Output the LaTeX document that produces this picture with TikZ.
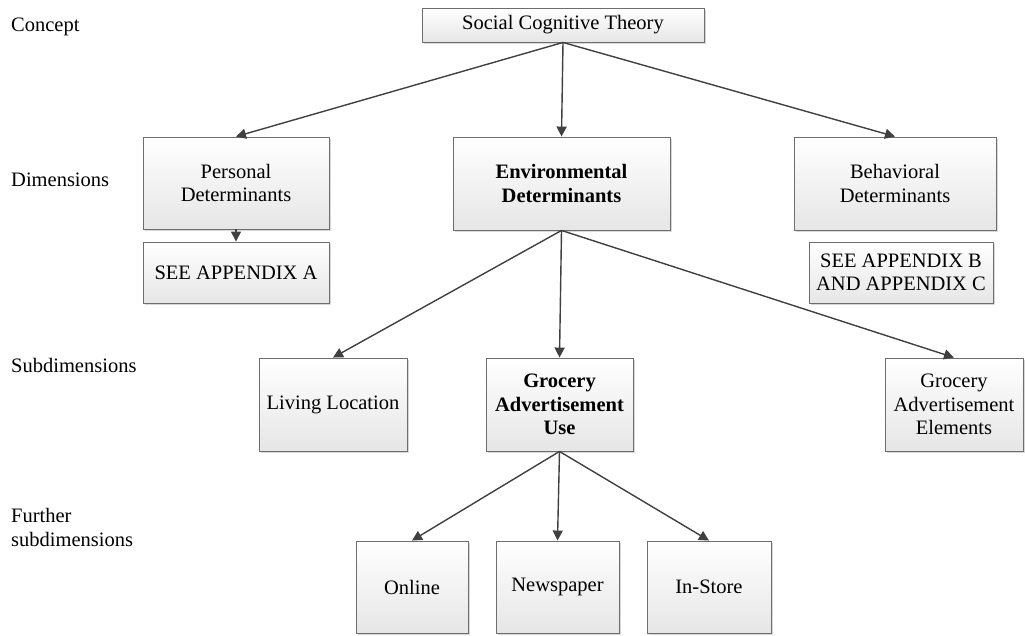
\documentclass[tikz,border=0pt]{standalone}
\usepackage{fontspec}
\setmainfont{Liberation Serif}
\usetikzlibrary{arrows.meta,shadows}
\definecolor{boxline}{HTML}{6E6E6E}
\definecolor{arrowc}{HTML}{404040}
\definecolor{boxbot}{HTML}{E6E6E6}
\tikzset{
  txt/.style={font=\fontsize{20.5}{23.5}\selectfont, inner sep=0pt},
  box/.style={draw=boxline, line width=0.9pt, top color=white, bottom color=boxbot,
    align=center, inner sep=2pt, font=\fontsize{20.5}{23.5}\selectfont,
    drop shadow={shadow xshift=2pt, shadow yshift=-2pt, fill=black!30, opacity=0.5}},
  arr/.style={draw=arrowc, line width=1.4pt, -{Triangle[length=10pt,width=10pt]}},
}
\begin{document}
\begin{tikzpicture}[x=1pt,y=-1pt]
\useasboundingbox (0,0) rectangle (1025,635);
% level labels
\node[txt, anchor=base west] (lc) at (11,31) {Concept};
\node[txt, anchor=base west] (ld) at (11,186.5) {Dimensions};
\node[txt, anchor=base west] (ls) at (11,372) {Subdimensions};
\node[txt, anchor=base west, align=left] (lf) at (11,546) {Further\\subdimensions};
% boxes
\node[box, minimum width=282pt, minimum height=34pt] (sct) at (563,25) {Social Cognitive Theory};
\node[box, minimum width=186pt, minimum height=92pt] (pd) at (236,183) {Personal\\Determinants};
\node[box, minimum width=217pt, minimum height=93pt] (ed) at (561.5,183.5) {\bfseries Environmental\\\bfseries Determinants};
\node[box, minimum width=202pt, minimum height=93pt] (bd) at (895,183.5) {Behavioral\\Determinants};
\node[box, minimum width=186pt, minimum height=61pt] (sa) at (236,272.5) {SEE APPENDIX A};
\node[box, minimum width=184pt, minimum height=61pt] (sb) at (901,272.5) {SEE APPENDIX B\\AND APPENDIX C};
\node[box, minimum width=148pt, minimum height=93pt] (ll) at (333,404.5) {Living Location};
\node[box, minimum width=147pt, minimum height=93pt] (gu) at (559.5,404.5) {\bfseries Grocery\\\bfseries Advertisement\\\bfseries Use};
\node[box, minimum width=138pt, minimum height=93pt] (ge) at (954,404.5) {Grocery\\Advertisement\\Elements};
\node[box, minimum width=112pt, minimum height=92pt] (on) at (412,587) {Online};
\node[box, minimum width=123pt, minimum height=92pt] (np) at (557.5,587) {Newspaper};
\node[box, minimum width=124pt, minimum height=92pt] (is) at (709,587) {In-Store};
% connectors
\draw[arr] (sct.south) -- (pd.north);
\draw[arr] (sct.south) -- (ed.north);
\draw[arr] (sct.south) -- (bd.north);
\draw[arr] (pd.south) -- (sa.north);
\draw[arr] (ed.south) -- (ll.north);
\draw[arr] (ed.south) -- (gu.north);
\draw[arr] (ed.south) -- (ge.north);
\draw[arr] (gu.south) -- (on.north);
\draw[arr] (gu.south) -- (np.north);
\draw[arr] (gu.south) -- (is.north);
\end{tikzpicture}
\end{document}
